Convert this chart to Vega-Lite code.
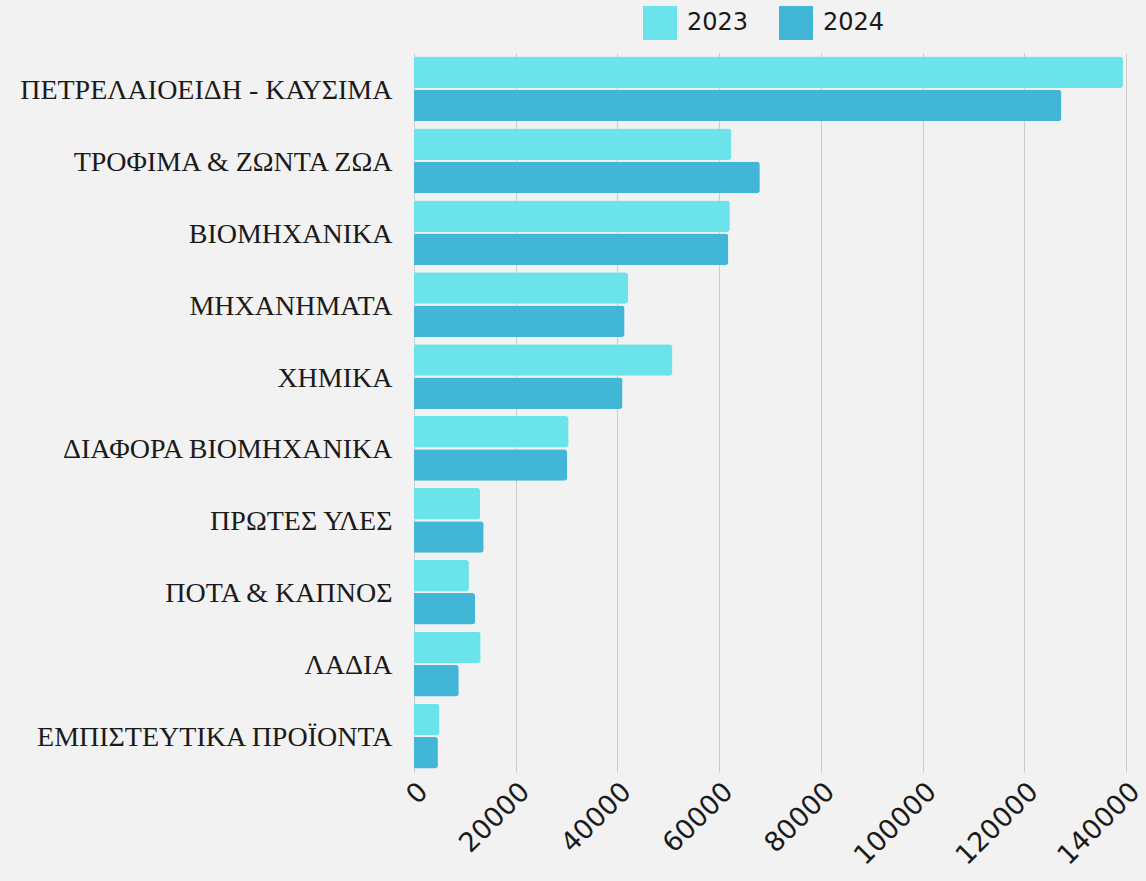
{
  "$schema": "https://vega.github.io/schema/vega-lite/v6.json",
  "autosize": {"type": "none"},
  "padding": {"left": 414, "top": 53, "right": 20, "bottom": 109},
  "width": 712,
  "height": 719,
  "background": "#f2f2f2",
  "data": {
    "values": [
      {"category": "ΠΕΤΡΕΛΑΙΟΕΙΔΗ - ΚΑΥΣΙΜΑ", "year": "2023", "value": 139400},
      {"category": "ΠΕΤΡΕΛΑΙΟΕΙΔΗ - ΚΑΥΣΙΜΑ", "year": "2024", "value": 127300},
      {"category": "ΤΡΟΦΙΜΑ & ΖΩΝΤΑ ΖΩΑ", "year": "2023", "value": 62400},
      {"category": "ΤΡΟΦΙΜΑ & ΖΩΝΤΑ ΖΩΑ", "year": "2024", "value": 68000},
      {"category": "ΒΙΟΜΗΧΑΝΙΚΑ", "year": "2023", "value": 62100},
      {"category": "ΒΙΟΜΗΧΑΝΙΚΑ", "year": "2024", "value": 61800},
      {"category": "ΜΗΧΑΝΗΜΑΤΑ", "year": "2023", "value": 42100},
      {"category": "ΜΗΧΑΝΗΜΑΤΑ", "year": "2024", "value": 41400},
      {"category": "ΧΗΜΙΚΑ", "year": "2023", "value": 50800},
      {"category": "ΧΗΜΙΚΑ", "year": "2024", "value": 41000},
      {"category": "ΔΙΑΦΟΡΑ ΒΙΟΜΗΧΑΝΙΚΑ", "year": "2023", "value": 30400},
      {"category": "ΔΙΑΦΟΡΑ ΒΙΟΜΗΧΑΝΙΚΑ", "year": "2024", "value": 30100},
      {"category": "ΠΡΩΤΕΣ ΥΛΕΣ", "year": "2023", "value": 13000},
      {"category": "ΠΡΩΤΕΣ ΥΛΕΣ", "year": "2024", "value": 13700},
      {"category": "ΠΟΤΑ & ΚΑΠΝΟΣ", "year": "2023", "value": 10800},
      {"category": "ΠΟΤΑ & ΚΑΠΝΟΣ", "year": "2024", "value": 12000},
      {"category": "ΛΑΔΙΑ", "year": "2023", "value": 13100},
      {"category": "ΛΑΔΙΑ", "year": "2024", "value": 8800},
      {"category": "ΕΜΠΙΣΤΕΥΤΙΚΑ ΠΡΟΪΟΝΤΑ", "year": "2023", "value": 5000},
      {"category": "ΕΜΠΙΣΤΕΥΤΙΚΑ ΠΡΟΪΟΝΤΑ", "year": "2024", "value": 4700}
    ]
  },
  "mark": {"type": "bar", "cornerRadiusEnd": 3},
  "encoding": {
    "y": {
      "field": "category",
      "type": "nominal",
      "sort": null,
      "scale": {"paddingInner": 0.1, "paddingOuter": 0.05},
      "axis": {
        "title": null,
        "domain": false,
        "ticks": false,
        "grid": false,
        "labelFont": "Liberation Serif",
        "labelFontSize": 28,
        "labelColor": "#1a1a1a",
        "labelPadding": 22,
        "labelOffset": 2,
        "labelLimit": 500
      }
    },
    "yOffset": {
      "field": "year",
      "type": "nominal",
      "scale": {"paddingInner": 0.05}
    },
    "x": {
      "field": "value",
      "type": "quantitative",
      "scale": {"domain": [0, 140000], "nice": false},
      "axis": {
        "title": null,
        "values": [0, 20000, 40000, 60000, 80000, 100000, 120000, 140000],
        "format": "d",
        "domain": false,
        "ticks": false,
        "grid": true,
        "gridColor": "#cccccc",
        "gridWidth": 1,
        "labelAngle": -45,
        "labelFont": "DejaVu Sans",
        "labelFontSize": 27,
        "labelColor": "#1a1a1a",
        "labelPadding": 6,
        "labelFlush": false,
        "labelOverlap": false
      }
    },
    "color": {
      "field": "year",
      "type": "nominal",
      "scale": {"domain": ["2023", "2024"], "range": ["#6ae4ea", "#42b6d7"]},
      "legend": {
        "title": null,
        "orient": "none",
        "direction": "horizontal",
        "legendX": 229,
        "legendY": -47,
        "padding": 0,
        "symbolType": "square",
        "symbolSize": 1156,
        "symbolStrokeWidth": 0,
        "symbolOpacity": 1,
        "labelFont": "DejaVu Sans",
        "labelFontSize": 24,
        "labelColor": "#1a1a1a",
        "labelOffset": 10,
        "columnPadding": 30
      }
    }
  },
  "config": {"view": {"stroke": null}}
}
